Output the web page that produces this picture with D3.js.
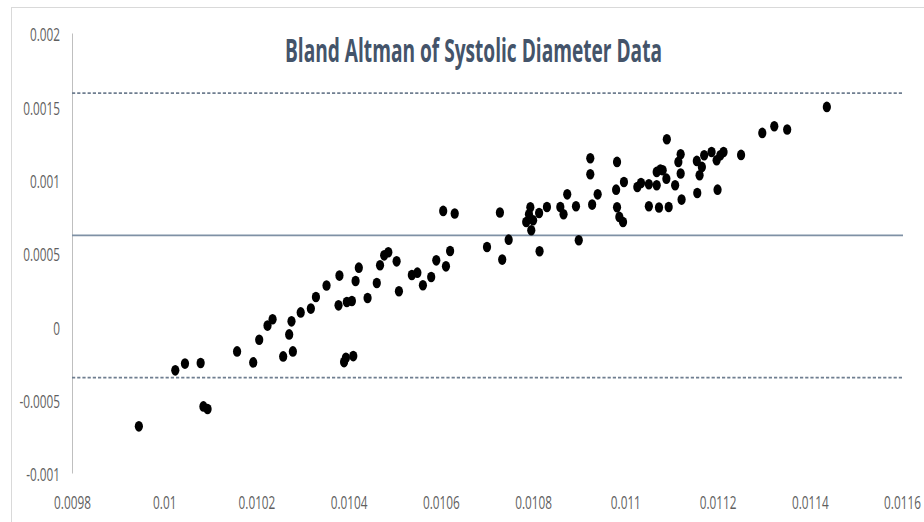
<!DOCTYPE html>
<html>
<head>
<meta charset="utf-8">
<script src="https://cdn.jsdelivr.net/npm/d3@7"></script>
<style>
  body { margin: 0; background: #fff; }
  svg { display: block; }
</style>
</head>
<body>
<svg id="chart" width="924" height="522"></svg>
<script>
// Bland-Altman plot: mean of the two measurements (x) vs their difference (y)
const chartTitle = "Bland Altman of Systolic Diameter Data";

const meanValues = [
  0.009945, 0.010024, 0.010045, 0.010079, 0.010085, 0.010094, 0.010158, 0.010193,
  0.010206, 0.010224, 0.010235, 0.010258, 0.010279, 0.010271, 0.010276, 0.010296,
  0.010318, 0.010329, 0.010352, 0.010380, 0.010378, 0.010396, 0.010407, 0.010390,
  0.010394, 0.010410, 0.010415, 0.010422, 0.010441, 0.010461, 0.010468, 0.010477,
  0.010486, 0.010504, 0.010509, 0.010537, 0.010549, 0.010561, 0.010579, 0.010590,
  0.010611, 0.010620, 0.010605, 0.010630, 0.010700, 0.010728, 0.010733, 0.010747,
  0.010785, 0.010794, 0.010791, 0.010800, 0.010796, 0.010813, 0.010814, 0.010830,
  0.010859, 0.010866, 0.010874, 0.010893, 0.010899, 0.010924, 0.010924, 0.010928,
  0.010940, 0.010980, 0.010982, 0.010982, 0.010987, 0.010995, 0.010997, 0.011026,
  0.011034, 0.011051, 0.011068, 0.011076, 0.011081, 0.011068, 0.011089, 0.011051,
  0.011073, 0.011094, 0.011090, 0.011108, 0.011115, 0.011120, 0.011120, 0.011122,
  0.011155, 0.011161, 0.011166, 0.011171, 0.011156, 0.011187, 0.011198, 0.011200,
  0.011206, 0.011213, 0.011251, 0.011297, 0.011323, 0.011351, 0.011437
];

const differenceValues = [
  -0.000682, -0.000300, -0.000254, -0.000250, -0.000546, -0.000564, -0.000171, -0.000246,
  -0.000091, 0.000005, 0.000048, -0.000205, -0.000171, -0.000055, 0.000034, 0.000095,
  0.000121, 0.000200, 0.000278, 0.000346, 0.000143, 0.000166, 0.000173, -0.000244,
  -0.000214, -0.000203, 0.000309, 0.000400, 0.000193, 0.000295, 0.000416, 0.000484,
  0.000505, 0.000443, 0.000239, 0.000350, 0.000366, 0.000280, 0.000336, 0.000450,
  0.000409, 0.000514, 0.000787, 0.000769, 0.000541, 0.000776, 0.000455, 0.000591,
  0.000711, 0.000812, 0.000764, 0.000723, 0.000655, 0.000773, 0.000512, 0.000814,
  0.000814, 0.000764, 0.000900, 0.000819, 0.000587, 0.001146, 0.001037, 0.000830,
  0.000900, 0.000932, 0.001121, 0.000812, 0.000746, 0.000711, 0.000984, 0.000950,
  0.000977, 0.000969, 0.001053, 0.001069, 0.001064, 0.000962, 0.001007, 0.000819,
  0.000810, 0.000814, 0.001276, 0.000962, 0.001121, 0.001173, 0.001042, 0.000864,
  0.001128, 0.001030, 0.001087, 0.001166, 0.000909, 0.001189, 0.001132, 0.000932,
  0.001166, 0.001189, 0.001169, 0.001319, 0.001364, 0.001342, 0.001496
];

// Bias and 95% limits of agreement
const meanDifference = 0.00062;
const upperLimit = 0.00159;
const lowerLimit = -0.00035;

const xTickValues = [0.0098, 0.0100, 0.0102, 0.0104, 0.0106, 0.0108, 0.0110, 0.0112, 0.0114, 0.0116];
const xTickLabels = ["0.0098", "0.01", "0.0102", "0.0104", "0.0106", "0.0108", "0.011", "0.0112", "0.0114", "0.0116"];
const yTickValues = [-0.001, -0.0005, 0, 0.0005, 0.001, 0.0015, 0.002];
const yTickLabels = ["-0.001", "-0.0005", "0", "0.0005", "0.001", "0.0015", "0.002"];

const svg = d3.select("#chart");
const W = 924, H = 522;
const plot = { left: 72, right: 902, top: 33, bottom: 473 };

const x = d3.scaleLinear().domain([0.0098, 0.0116]).range([plot.left, plot.right]);
const y = d3.scaleLinear().domain([-0.001, 0.002]).range([plot.bottom, plot.top]);

svg.append("rect").attr("width", W).attr("height", H).attr("fill", "#fff");
// chart area frame
svg.append("rect")
  .attr("x", 11.5).attr("y", 7.5)
  .attr("width", W + 20).attr("height", H + 20)
  .attr("fill", "#fff").attr("stroke", "#d9d9d9").attr("stroke-width", 1);

const labelFont = "'Open Sans', 'DejaVu Sans', sans-serif";
const squeeze = 0.62;   // narrow letterforms for the tick labels

// vertical axis
const yAxis = d3.axisLeft(y)
  .tickValues(yTickValues)
  .tickSize(0)
  .tickPadding(12)
  .tickFormat((d, i) => yTickLabels[i]);

const gy = svg.append("g").attr("transform", `translate(${plot.left},0)`).call(yAxis);
gy.select(".domain").attr("stroke", "#bfbfbf").attr("stroke-width", 1);
gy.selectAll("text")
  .attr("font-family", labelFont)
  .attr("font-size", 19)
  .attr("fill", "#5f5f5f")
  .attr("dy", "0.42em");

// horizontal axis labels (no axis line drawn)
const xAxis = d3.axisBottom(x)
  .tickValues(xTickValues)
  .tickSize(0)
  .tickPadding(0)
  .tickFormat((d, i) => xTickLabels[i]);

const gx = svg.append("g").attr("transform", `translate(0,491)`).call(xAxis);
gx.select(".domain").remove();
gx.selectAll("text")
  .attr("font-family", labelFont)
  .attr("font-size", 19)
  .attr("fill", "#5f5f5f")
  .attr("dy", "0.95em");

// compress tick labels horizontally
svg.selectAll(".tick text").each(function () {
  const len = this.getComputedTextLength();
  d3.select(this).attr("textLength", len * squeeze).attr("lengthAdjust", "spacingAndGlyphs");
});

// reference lines: mean difference and limits of agreement
svg.append("line")
  .attr("x1", x(0.0098)).attr("x2", x(0.0116) + 1)
  .attr("y1", y(meanDifference)).attr("y2", y(meanDifference))
  .attr("stroke", "#7f91a5").attr("stroke-width", 1.7);

[upperLimit, lowerLimit].forEach(v => {
  svg.append("line")
    .attr("x1", x(0.0098)).attr("x2", x(0.0116) + 1)
    .attr("y1", y(v)).attr("y2", y(v))
    .attr("stroke", "#6f7e90").attr("stroke-width", 1.8)
    .attr("stroke-dasharray", "3.2,2");
});

// data points
const points = meanValues.map((m, i) => ({ m, d: differenceValues[i] }));
svg.append("g").selectAll("ellipse")
  .data(points)
  .join("ellipse")
  .attr("cx", p => x(p.m))
  .attr("cy", p => y(p.d))
  .attr("rx", 4.1)
  .attr("ry", 5.3)
  .attr("fill", "#000");

// title
svg.append("text")
  .attr("x", 473.5).attr("y", 62)
  .attr("text-anchor", "middle")
  .attr("font-family", labelFont)
  .attr("font-weight", 700)
  .attr("font-size", 32)
  .attr("fill", "#44546a")
  .attr("textLength", 377)
  .attr("lengthAdjust", "spacingAndGlyphs")
  .text(chartTitle);
</script>
</body>
</html>
